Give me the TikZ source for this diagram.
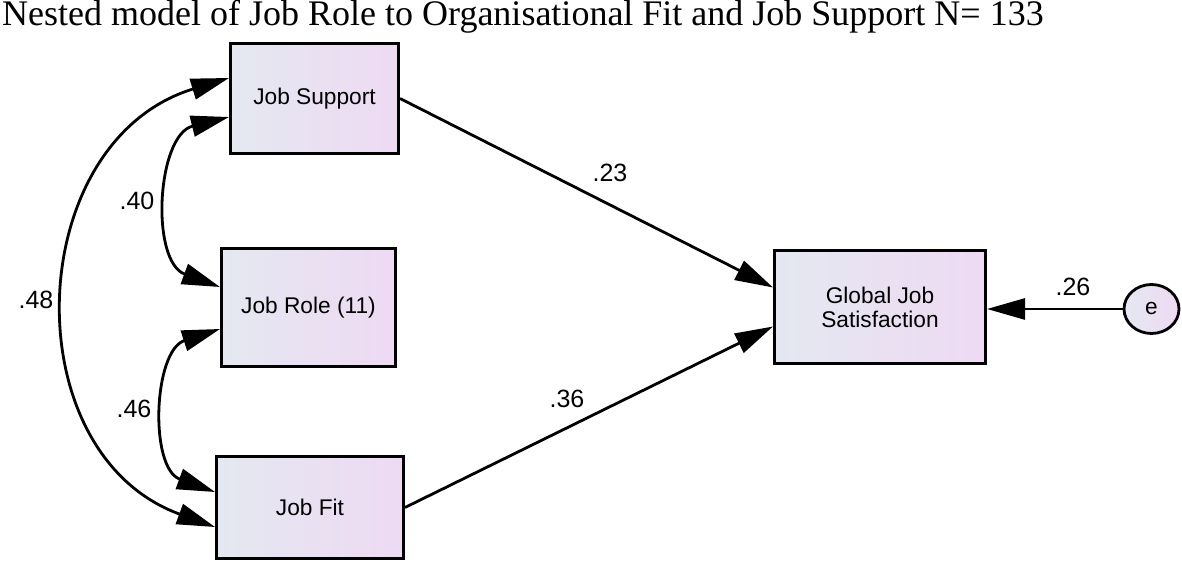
\documentclass[tikz,border=0pt]{standalone}
\usepackage{fontspec}
\setmainfont{Liberation Serif}
\setsansfont{Liberation Sans}
\usetikzlibrary{arrows.meta,shapes.geometric}
\definecolor{semleft}{HTML}{E4E8F1}
\definecolor{semright}{HTML}{EEDAF3}

\begin{document}
\begin{tikzpicture}[x=1pt, y=1pt,
  varbox/.style={draw, line width=3pt, left color=semleft, right color=semright,
    inner sep=0pt, align=center, font=\fontsize{22.7}{24}\selectfont\sffamily},
  coef/.style={font=\fontsize{25}{25}\selectfont\sffamily, inner sep=0pt},
  effect/.style={line width=2.8pt, -{Triangle[length=38pt, width=21pt]}},
  covar/.style={line width=2.8pt,
    {Triangle[length=38pt, width=21pt]}-{Triangle[length=38pt, width=21pt]}}]
  \fill[white] (0,0) rectangle (1182,564);
  \useasboundingbox (0,0) rectangle (1182,564);

  % ── Title ──
  \node[anchor=base west, inner sep=0pt, font=\fontsize{36}{40}\selectfont] (title) at (2,538)
    {Nested model of Job Role to Organisational Fit and Job Support N= 133};

  % Observed variables
  \node[varbox, minimum width=168pt, minimum height=110pt] (js) at (314.5,465.5) {Job Support};
  \node[varbox, minimum width=174pt, minimum height=118pt] (jr) at (308.5,256.5) {Job Role (11)};
  \node[varbox, minimum width=187pt, minimum height=102pt] (jf) at (310,56.5) {Job Fit};
  \node[varbox, minimum width=211pt, minimum height=113pt] (gjs) at (880,257)
    {Global Job\\Satisfaction};

  % Error term
  \node[draw, ellipse, line width=2.8pt, left color=semleft, right color=semright,
    inner sep=0pt, minimum width=55pt, minimum height=49pt,
    font=\fontsize{22.7}{24}\selectfont\sffamily] (e) at (1151.5,255) {e};

  % Regression paths
  \draw[effect] (js.east) -- ([yshift=19.5pt]gjs.west);
  \draw[effect] (jf.east) -- ([yshift=-19.5pt]gjs.west);
  \draw[effect] (e.west) -- (e.west -| gjs.east);
  \node[coef] (b23) at (610,391) {.23};
  \node[coef] (b36) at (567,165) {.36};
  \node[coef] (b26) at (1073,277) {.26};

  % Correlations
  \draw[covar] ([yshift=-18.5pt]js.west) to[out=194, in=160, looseness=1.12]
    ([yshift=20.5pt]jr.west);
  \draw[covar] ([yshift=-21.5pt]jr.west) to[out=198, in=160, looseness=1.1]
    ([yshift=15.5pt]jf.west);
  \draw[covar] ([yshift=20.5pt]js.west) to[out=197, in=160, looseness=1.23]
    ([yshift=-19.5pt]jf.west);
  \node[coef] (r40) at (137,363) {.40};
  \node[coef] (r46) at (134,155) {.46};
  \node[coef] (r48) at (36,264) {.48};
\end{tikzpicture}
\end{document}
